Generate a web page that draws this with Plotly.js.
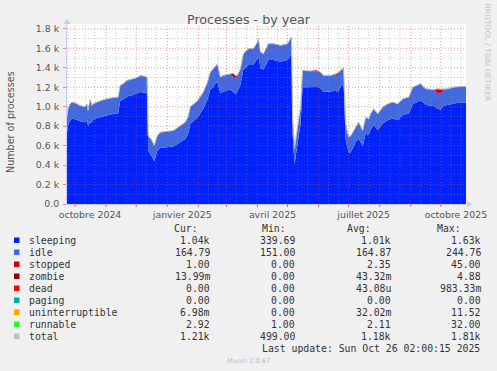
<!DOCTYPE html>
<html>
<head>
<meta charset="utf-8">
<script src="https://cdn.plot.ly/plotly-3.0.1.min.js"></script>
<style>
html,body{margin:0;padding:0;background:#f0f0f0;}
#chart{width:497px;height:371px;}
</style>
</head>
<body>
<div id="chart"></div>
<script>
// ---------------- data ----------------
const dates = [
"2024-09-23","2024-09-24","2024-09-26","2024-09-28","2024-10-01","2024-10-06","2024-10-11","2024-10-13","2024-10-14","2024-10-16",
"2024-10-18","2024-10-19","2024-10-23","2024-10-29","2024-11-05","2024-11-13","2024-11-15","2024-11-18","2024-11-22","2024-11-28",
"2024-12-02","2024-12-05","2024-12-10","2024-12-12","2024-12-13","2024-12-15","2024-12-17","2024-12-19","2024-12-20","2024-12-22",
"2024-12-25","2025-01-01","2025-01-07","2025-01-12","2025-01-19","2025-01-22","2025-01-24","2025-01-31","2025-02-06","2025-02-10",
"2025-02-13","2025-02-16","2025-02-20","2025-02-23","2025-02-26","2025-03-05","2025-03-08","2025-03-10","2025-03-12","2025-03-15",
"2025-03-18","2025-03-23","2025-03-28","2025-04-01","2025-04-02","2025-04-04","2025-04-07","2025-04-12","2025-04-17","2025-04-21",
"2025-04-24","2025-05-01","2025-05-04","2025-05-05","2025-05-06","2025-05-07","2025-05-08","2025-05-11","2025-05-14","2025-05-16",
"2025-05-24","2025-05-29","2025-05-31","2025-06-03","2025-06-06","2025-06-13","2025-06-18","2025-06-20","2025-06-23","2025-06-26",
"2025-06-28","2025-07-01","2025-07-03","2025-07-06","2025-07-08","2025-07-11","2025-07-15","2025-07-18","2025-07-21","2025-07-23",
"2025-07-26","2025-07-30","2025-08-04","2025-08-09","2025-08-14","2025-08-19","2025-08-24","2025-08-30","2025-09-03","2025-09-11",
"2025-09-14","2025-09-16","2025-09-24","2025-09-28","2025-10-01","2025-10-04","2025-10-08","2025-10-14","2025-10-21","2025-10-26 02:00"
];
const sleeping = [
732,807,855,877,872,850,839,865,799,837,
840,867,883,904,921,931,1056,1074,1104,1120,
1135,1151,1144,1132,547,517,482,439,477,542,
576,587,591,622,669,727,822,887,977,1072,
1173,1208,1259,1137,1154,1176,1143,1128,1159,1222,
1382,1429,1429,1492,1522,1394,1382,1480,1480,1472,
1463,1480,1527,1542,727,482,407,622,823,1201,
1199,1198,1202,1188,1154,1154,1171,1148,1206,1228,
662,525,532,588,637,674,593,725,708,762,
811,760,828,862,880,862,914,931,1029,1064,
1032,1017,1007,977,972,1012,1017,1034,1042,1042
];
const idle = [
165,170,172,168,165,160,158,162,160,240,
170,160,162,165,165,165,160,160,165,165,
162,168,165,165,150,160,165,160,160,155,
160,160,162,165,170,170,175,170,170,175,
180,180,180,165,165,160,160,160,160,165,
160,165,165,170,175,165,160,165,165,165,
165,165,170,175,170,165,160,165,170,170,
165,165,165,165,165,165,165,165,165,170,
160,160,165,165,160,165,160,165,165,165,
165,165,165,165,165,165,165,165,170,170,
165,165,165,165,165,165,165,165,165,165
];
const stopped = [
1,1,1,1,1,1,1,1,1,1,
1,1,1,1,1,1,1,1,1,1,
1,1,1,1,1,1,1,1,1,1,
1,1,1,1,1,1,1,1,1,1,
1,1,1,1,1,1,40,30,1,1,
1,1,1,1,1,1,1,1,1,1,
1,1,1,1,1,1,1,1,1,1,
1,15,1,1,1,1,1,30,1,1,
1,1,1,1,1,1,1,1,1,1,
1,1,1,1,1,1,1,1,1,1,
1,1,1,40,40,1,1,1,1,1
];
const runnable = [
2,2,2,2,2,2,2,2,2,2,
2,2,2,2,2,2,2,2,2,2,
2,2,2,2,2,2,2,2,2,2,
2,2,2,2,2,2,2,2,2,2,
2,2,2,2,2,2,2,2,2,2,
2,2,2,2,2,2,2,2,2,2,
2,2,2,2,2,2,2,2,2,2,
2,2,2,2,2,2,2,2,2,2,
2,2,2,2,2,2,2,2,2,2,
2,2,2,2,2,2,2,2,2,2,
2,2,2,2,2,2,2,2,2,3
];
const total = [
900,980,1030,1048,1040,1013,1000,1030,962,1080,
1013,1030,1048,1072,1089,1099,1219,1237,1272,1288,
1300,1322,1312,1300,700,680,650,602,640,700,
739,750,756,790,842,900,1000,1060,1150,1250,
1356,1391,1442,1305,1322,1339,1345,1320,1322,1390,
1545,1597,1597,1665,1700,1562,1545,1648,1648,1640,
1631,1648,1700,1720,900,650,570,790,996,1374,
1367,1380,1370,1356,1322,1322,1339,1345,1374,1401,
825,688,700,756,800,842,756,893,876,930,
979,928,996,1030,1048,1030,1082,1099,1202,1237,
1200,1185,1175,1185,1180,1180,1185,1202,1210,1210
];

// legend table
const seriesNames = ["sleeping","idle","stopped","zombie","dead","paging","uninterruptible","runnable","total"];
const seriesColors = ["#0022ff","#4169e1","#cc0000","#990000","#ff0000","#00aaaa","#ffa500","#22ff22","#c0c0c0"];
const curVals = ["1.04k","164.79","1.00","13.99m","0.00","0.00","6.98m","2.92","1.21k"];
const minVals = ["339.69","151.00","0.00","0.00","0.00","0.00","0.00","1.00","499.00"];
const avgVals = ["1.01k","164.87","2.35","43.32m","43.08u","0.00","32.02m","2.11","1.18k"];
const maxVals = ["1.63k","244.76","45.00","4.88","983.33m","0.00","11.52","32.00","1.81k"];
const lastUpdate = "Last update: Sun Oct 26 02:00:15 2025";

// axis ticks / grid
const yTickVals = [0,200,400,600,800,1000,1200,1400,1600,1800];
const yTickText = ["0.0","0.2 k","0.4 k","0.6 k","0.8 k","1.0 k","1.2 k","1.4 k","1.6 k","1.8 k"];
const yMinorVals = [100,300,500,700,900,1100,1300,1500,1700];
const xLabelVals = ["2024-10-16","2025-01-16","2025-04-16","2025-07-16","2025-10-16"];
const xLabelText = ["octobre 2024","janvier 2025","avril 2025","juillet 2025","octobre 2025"];
const monthStarts = ["2024-10-01","2024-11-01","2024-12-01","2025-01-01","2025-02-01","2025-03-01","2025-04-01",
  "2025-05-01","2025-06-01","2025-07-01","2025-08-01","2025-09-01","2025-10-01"];
const minorX = ["2024-09-24","2024-10-11","2024-10-21","2024-11-11","2024-11-21","2024-12-11","2024-12-21",
  "2025-01-11","2025-01-21","2025-02-11","2025-02-21","2025-03-11","2025-03-21","2025-04-11","2025-04-21",
  "2025-05-11","2025-05-21","2025-06-11","2025-06-21","2025-07-11","2025-07-21","2025-08-11","2025-08-21",
  "2025-09-11","2025-09-21","2025-10-11","2025-10-21"];
const xRange = ["2024-09-23","2025-10-26 02:00"];
const yMax = 1850;

// ---------------- layout helpers ----------------
const W = 497, H = 371, ML = 67, MR = 31, MT = 24, MB = 167;
const PW = W - ML - MR, PH = H - MT - MB;
const px = x => (x - ML) / PW;
const py = y => (H - MB - y) / PH;

const fill = (name, y, color) => ({
  type: "scatter", mode: "lines", x: dates, y: y, name: name,
  stackgroup: "one", line: {width: 0, color: color}, fillcolor: color, hoverinfo: "skip"
});
const traces = [
  fill("sleeping", sleeping, seriesColors[0]),
  fill("idle", idle, seriesColors[1]),
  fill("stopped", stopped, seriesColors[2]),
  fill("runnable", runnable, seriesColors[7]),
  {type: "scatter", mode: "lines", x: dates, y: total, name: "total",
   line: {width: 1, color: seriesColors[8]}, hoverinfo: "skip"}
];

const shapes = [];
const majorCol = "rgba(225,70,70,0.55)";
const minorCol = "rgba(140,140,140,0.45)";
minorX.forEach(d => shapes.push({type: "line", layer: "above", xref: "x", yref: "y",
  x0: d, x1: d, y0: 0, y1: yMax, line: {color: minorCol, width: 1, dash: "1px,2px"}}));
yMinorVals.forEach(v => shapes.push({type: "line", layer: "above", xref: "paper", yref: "y",
  x0: 0, x1: 1, y0: v, y1: v, line: {color: minorCol, width: 1, dash: "1px,2px"}}));
monthStarts.forEach(d => {
  shapes.push({type: "line", layer: "above", xref: "x", yref: "y",
    x0: d, x1: d, y0: 0, y1: yMax, line: {color: majorCol, width: 1, dash: "1px,2px"}});
  shapes.push({type: "line", layer: "above", xref: "x", yref: "paper",
    x0: d, x1: d, y0: 0, y1: -3 / PH, line: {color: "rgba(225,70,70,0.8)", width: 1}});
});
yTickVals.slice(1).forEach(v => shapes.push({type: "line", layer: "above", xref: "paper", yref: "y",
  x0: 0, x1: 1, y0: v, y1: v, line: {color: majorCol, width: 1, dash: "1px,2px"}}));
// axis arrows
shapes.push({type: "path", xref: "paper", yref: "paper", layer: "above",
  path: `M ${px(467)} ${py(200.5)} L ${px(472)} ${py(204)} L ${px(467)} ${py(207.5)} Z`,
  fillcolor: "#c8ccf4", line: {width: 0}});
shapes.push({type: "path", xref: "paper", yref: "paper", layer: "above",
  path: `M ${px(63.5)} ${py(24)} L ${px(67)} ${py(19)} L ${px(70.5)} ${py(24)} Z`,
  fillcolor: "#c8ccf4", line: {width: 0}});

const mono = "DejaVu Sans Mono";
const annotations = [];
const ann = (text, x, y, anchor, size, color, family, extra) => Object.assign({
  text: text, xref: "paper", yref: "paper", x: px(x), y: py(y), xanchor: anchor, yanchor: "middle",
  showarrow: false, font: {family: family || mono, size: size, color: color}
}, extra || {});

annotations.push(ann("Number of processes", 10, 122, "center", 9.6, "#555", "DejaVu Sans", {textangle: -90}));
annotations.push(ann("RRDTOOL / TOBI OETIKER", 487.5, 53, "center", 7.6, "#c4c4c4", "DejaVu Sans", {textangle: 90}));
annotations.push(ann("Cur:", 199.5, 228.5, "right", 9.8, "#333"));
annotations.push(ann("Min:", 288, 228.5, "right", 9.8, "#333"));
annotations.push(ann("Avg:", 373, 228.5, "right", 9.8, "#333"));
annotations.push(ann("Max:", 463, 228.5, "right", 9.8, "#333"));
seriesNames.forEach((n, i) => {
  const yy = 240.5 + 12 * i;
  annotations.push(ann(n, 26.5, yy, "left", 9.8, "#333"));
  annotations.push(ann(curVals[i], 212, yy, "right", 9.8, "#333"));
  annotations.push(ann(minVals[i], 297, yy, "right", 9.8, "#333"));
  annotations.push(ann(avgVals[i], 393, yy, "right", 9.8, "#333"));
  annotations.push(ann(maxVals[i], 483, yy, "right", 9.8, "#333"));
  shapes.push({type: "rect", xref: "paper", yref: "paper", layer: "above",
    x0: px(14), x1: px(19.5), y0: py(yy - 3), y1: py(yy + 2.5),
    fillcolor: seriesColors[i], line: {width: 0}});
});
annotations.push(ann(lastUpdate, 482, 348.5, "right", 9.8, "#333"));
annotations.push(ann("Munin 2.0.67", 248, 360.5, "center", 6.6, "#bbbbbb", "DejaVu Sans"));

const layout = {
  width: W, height: H,
  margin: {l: ML, r: MR, t: MT, b: MB, pad: 0},
  paper_bgcolor: "#f0f0f0", plot_bgcolor: "#ffffff",
  showlegend: false,
  title: {text: "Processes - by year", x: 0.5, xref: "container", xanchor: "center",
          y: 1 - 19.5 / H, yref: "container", yanchor: "middle",
          font: {family: "DejaVu Sans", size: 12.7, color: "#555"}},
  xaxis: {type: "date", range: xRange, tickmode: "array", tickvals: xLabelVals, ticktext: xLabelText,
          showgrid: false, zeroline: false, showline: true, linecolor: "#c8ccf4", linewidth: 1,
          ticks: "", ticklabelstandoff: 2,
          tickfont: {family: "DejaVu Sans", size: 9.4, color: "#555"}, fixedrange: true},
  yaxis: {range: [0, yMax], tickmode: "array", tickvals: yTickVals, ticktext: yTickText,
          showgrid: false, zeroline: false, showline: true, linecolor: "#c8ccf4", linewidth: 1,
          ticks: "outside", ticklen: 3, tickcolor: "rgba(225,70,70,0.6)", ticklabelstandoff: 2,
          tickfont: {family: "DejaVu Sans", size: 9.4, color: "#555"}, fixedrange: true},
  shapes: shapes,
  annotations: annotations
};

Plotly.newPlot("chart", traces, layout, {displayModeBar: false, staticPlot: true});
</script>
</body>
</html>
